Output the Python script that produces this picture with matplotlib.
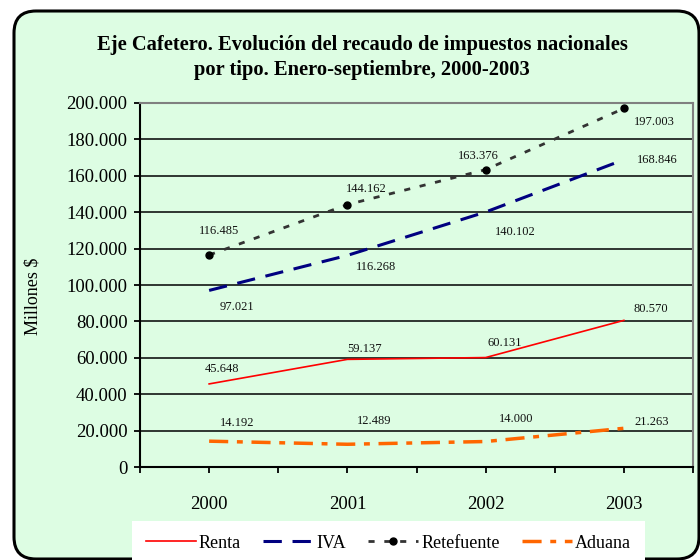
import matplotlib
matplotlib.use("Agg")
import matplotlib.pyplot as plt
from matplotlib.patches import FancyBboxPatch
from matplotlib.transforms import IdentityTransform
from matplotlib.ticker import FuncFormatter, MultipleLocator

# datos (millones de pesos)
anios = ["2000", "2001", "2002", "2003"]
renta = [45648, 59137, 60131, 80570]
iva = [97021, 116268, 140102, 168846]
retefuente = [116485, 144162, 163376, 197003]
aduana = [14192, 12489, 14000, 21263]

# desplazamiento de las etiquetas (pixeles)
off_renta = [(13, 15), (17, 10), (19, 15), (27, 11)]
off_iva = [(28, -17), (29, -12), (30, -20), (33, 0)]
off_rete = [(10, 24), (19, 16), (-7, 14), (30, -14)]
off_aduana = [(28, 18), (27, 23), (31, 23), (28, 6)]

verde = "#ddfde3"
serif = ["Liberation Serif", "DejaVu Serif"]
plt.rcParams["font.family"] = serif


def miles(v, pos=None):
    return f"{int(v):,}".replace(",", ".")


fig = plt.figure(figsize=(7, 5.6), dpi=100, facecolor="white")

# marco redondeado del grafico
marco = FancyBboxPatch((14, 1), 685, 548, boxstyle="round,pad=0,rounding_size=22",
                       transform=IdentityTransform(), facecolor=verde,
                       edgecolor="black", linewidth=2.2, zorder=-1)
fig.patches.append(marco)

ax = fig.add_axes([140 / 700, 1 - 467 / 560, 553 / 700, 364 / 560])
ax.set_facecolor(verde)
ax.set_zorder(2)

x = list(range(len(anios)))
ax.plot(x, renta, color="#ff0000", lw=1.2, label="Renta", zorder=3)
ax.plot(x, iva, color="#000080", lw=2.2, dashes=(6, 3.5), label="IVA", zorder=3)
ax.plot(x, retefuente, color="#333333", lw=2.0, dashes=(2.2, 3.5), marker="o",
        markersize=5, markerfacecolor="black", markeredgecolor="black",
        label="Retefuente", zorder=3)
ax.plot(x, aduana, color="#ff6600", lw=2.5, dashes=(5.5, 2.5, 1.7, 2.5),
        label="Aduana", zorder=3)

for serie, offs in [(renta, off_renta), (iva, off_iva), (retefuente, off_rete), (aduana, off_aduana)]:
    for xi, v, o in zip(x, serie, offs):
        ax.annotate(miles(v), (xi, v), xytext=o, textcoords="offset pixels",
                    ha="center", va="center", fontsize=9, color="#111111",
                    annotation_clip=False)

ax.set_xlim(-0.5, 3.5)
ax.set_ylim(0, 200000)
ax.set_xticks(x)
ax.set_xticklabels(anios, fontsize=13.5)
ax.set_xticks([-0.5, 0.5, 1.5, 2.5, 3.5], minor=True)
ax.yaxis.set_major_locator(MultipleLocator(20000))
ax.yaxis.set_major_formatter(FuncFormatter(miles))
ax.tick_params(axis="y", labelsize=13.5, length=4, width=1.3, color="black", pad=5)
ax.tick_params(axis="x", which="both", length=4, width=1.3, color="black", pad=17)
ax.grid(axis="y", color="black", lw=1.1)
ax.set_axisbelow(True)

for s in ["left", "bottom"]:
    ax.spines[s].set_color("black")
    ax.spines[s].set_linewidth(1.5)
for s in ["top", "right"]:
    ax.spines[s].set_color("#808080")
    ax.spines[s].set_linewidth(1.5)

fig.text(362 / 700, 1 - 45 / 560, "Eje Cafetero. Evolución del recaudo de impuestos nacionales",
         ha="center", va="center", fontsize=14.8, fontweight="bold")
fig.text(362 / 700, 1 - 70 / 560, "por tipo. Enero-septiembre, 2000-2003",
         ha="center", va="center", fontsize=14.8, fontweight="bold")
fig.text(33 / 700, 1 - 296 / 560, "Millones $", rotation=90, ha="center", va="center",
         fontsize=13)

leg = fig.legend(loc="upper left", bbox_to_anchor=(132 / 700, 1 - 521 / 560), ncol=4,
                 fontsize=13, frameon=True, fancybox=False, borderpad=0.75,
                 handlelength=2.78, handletextpad=0.15, columnspacing=1.25, borderaxespad=0)
leg.get_frame().set_facecolor("white")
leg.get_frame().set_edgecolor("none")
leg.get_frame().set_alpha(1)
leg.set_zorder(3)

fig.savefig("out.png", dpi=100, facecolor="white")
